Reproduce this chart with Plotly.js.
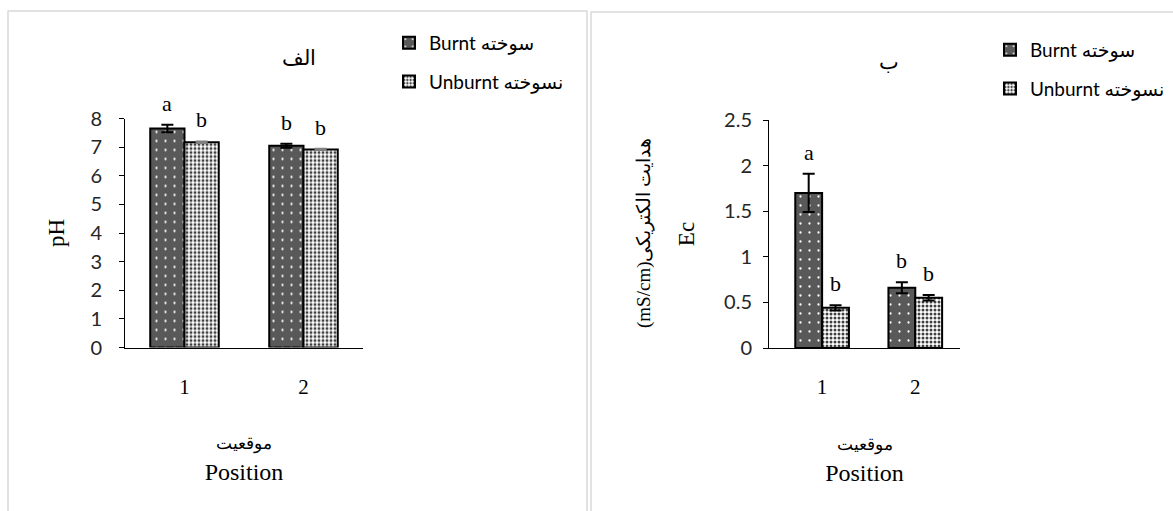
<!DOCTYPE html>
<html>
<head>
<meta charset="utf-8">
<script src="https://cdn.plot.ly/plotly-3.0.1.min.js"></script>
<style>html,body{margin:0;padding:0;background:#fff;}#chart{width:1173px;height:511px;}</style>
</head>
<body>
<div id="chart"></div>
<script>
// ---- data ----
const categories = ['1', '2'];
const seriesNames = ['Burnt سوخته', 'Unburnt نسوخته'];

const phBurnt = [7.65, 7.05];
const phBurntErr = [0.13, 0.07];
const phUnburnt = [7.17, 6.92];
const phUnburntErr = [0.03, 0.02];
const phBurntLetters = ['a', 'b'];
const phUnburntLetters = ['b', 'b'];

const ecBurnt = [1.70, 0.66];
const ecBurntErr = [0.21, 0.06];
const ecUnburnt = [0.44, 0.55];
const ecUnburntErr = [0.03, 0.03];
const ecBurntLetters = ['a', 'b'];
const ecUnburntLetters = ['b', 'b'];

const phTicks = [0, 1, 2, 3, 4, 5, 6, 7, 8];
const ecTicks = [0, 0.5, 1, 1.5, 2, 2.5];

const panelTitleLeft = 'الف';
const panelTitleRight = 'ب';
const xTitleFa = 'موقعیت';
const xTitleEn = 'Position';
const yTitleLeft = 'pH';
const yTitleRightFa = '\u202Bهدایت الکتریکی(mS/cm)\u202C';
const yTitleRightEn = 'Ec';

// ---- styles ----
const W = 1173, H = 511;
const px = v => v / W;
const py = v => (H - v) / H;
const serif = 'Liberation Serif, DejaVu Serif, serif';
const sans = 'Lato, Liberation Sans, DejaVu Sans, sans-serif';
const BARGAP = 0.424;
const barOffset = (1 - BARGAP) / 4;

const burntMarker = {
  color: '#595959',
  line: {color: '#000', width: 2},
  pattern: {shape: '.', bgcolor: '#595959', fgcolor: '#ffffff', size: 9, solidity: 0.05, fillmode: 'replace'}
};
const unburntMarker = {
  color: '#ffffff',
  line: {color: '#000', width: 2},
  pattern: {shape: '.', bgcolor: '#ffffff', fgcolor: '#404040', size: 4, solidity: 0.45, fillmode: 'replace'}
};

function errs(arr, color) {
  return {type: 'data', array: arr, visible: true, color: color || '#000', thickness: 2, width: 6};
}

const traces = [
  {type: 'bar', x: categories, y: phBurnt, name: seriesNames[0], marker: burntMarker,
   error_y: errs(phBurntErr), xaxis: 'x', yaxis: 'y', legend: 'legend', legendgroup: 'l1'},
  {type: 'bar', x: categories, y: phUnburnt, name: seriesNames[1], marker: unburntMarker,
   error_y: errs(phUnburntErr, '#7f7f7f'), xaxis: 'x', yaxis: 'y', legend: 'legend', legendgroup: 'l2'},
  {type: 'bar', x: categories, y: ecBurnt, name: seriesNames[0], marker: burntMarker,
   error_y: errs(ecBurntErr), xaxis: 'x2', yaxis: 'y2', legend: 'legend2', legendgroup: 'r1'},
  {type: 'bar', x: categories, y: ecUnburnt, name: seriesNames[1], marker: unburntMarker,
   error_y: errs(ecUnburntErr), xaxis: 'x2', yaxis: 'y2', legend: 'legend2', legendgroup: 'r2'}
];

const annotations = [];
function addLetters(letters, vals, errArr, sign, xref, yref) {
  letters.forEach((t, i) => {
    annotations.push({
      text: t, xref: xref, yref: yref, x: i + sign * barOffset, y: vals[i] + errArr[i],
      yanchor: 'bottom', xanchor: 'center', yshift: 7, showarrow: false,
      font: {family: serif, size: 22, color: '#000'}
    });
  });
}
addLetters(phBurntLetters, phBurnt, phBurntErr, -1, 'x', 'y');
addLetters(phUnburntLetters, phUnburnt, phUnburntErr, 1, 'x', 'y');
addLetters(ecBurntLetters, ecBurnt, ecBurntErr, -1, 'x2', 'y2');
addLetters(ecUnburntLetters, ecUnburnt, ecUnburntErr, 1, 'x2', 'y2');

annotations.push({text: panelTitleLeft, xref: 'paper', yref: 'paper', x: px(299), y: py(58),
  xshift: -19, yshift: 14,
  showarrow: false, font: {family: serif, size: 21, color: '#000'}});
annotations.push({text: panelTitleRight, xref: 'paper', yref: 'paper', x: px(889), y: py(63),
  xshift: 12, yshift: 15,
  showarrow: false, font: {family: serif, size: 21, color: '#000'}});
annotations.push({text: yTitleRightFa, xref: 'paper', yref: 'paper', x: px(644), y: py(233),
  textangle: -90, showarrow: false, font: {family: serif, size: 19, color: '#000'}});

const frameColor = '#d9d9d9';
const shapes = [
  {type: 'rect', xref: 'paper', yref: 'paper', x0: px(8), x1: px(587), y0: py(530), y1: py(11),
   line: {color: frameColor, width: 1.5}, fillcolor: 'rgba(0,0,0,0)', layer: 'below'},
  {type: 'rect', xref: 'paper', yref: 'paper', x0: px(591), x1: px(1190), y0: py(530), y1: py(12),
   line: {color: frameColor, width: 1.5}, fillcolor: 'rgba(0,0,0,0)', layer: 'below'}
];

const xTitleText = '<span style="font-size:17px">' + xTitleFa + '</span><br>' + xTitleEn;

const commonX = {
  type: 'category', showline: true, linecolor: '#000', linewidth: 1, ticks: '',
  showgrid: false, zeroline: false, ticklabelstandoff: 20,
  tickfont: {family: serif, size: 21, color: '#000'}
};
const commonY = {
  showline: true, linecolor: '#000', linewidth: 1, ticks: 'outside', ticklen: 5,
  tickcolor: '#000', showgrid: false, zeroline: false,
  tickfont: {family: sans, size: 20, color: '#262626'}
};

const layout = {
  width: W, height: H,
  margin: {l: 0, r: 0, t: 0, b: 0},
  paper_bgcolor: '#fff', plot_bgcolor: '#fff',
  barmode: 'group', bargap: BARGAP, bargroupgap: 0,
  xaxis: Object.assign({}, commonX, {domain: [px(125), px(363)], range: [-0.5, 1.5], anchor: 'y',
    title: {text: xTitleText, standoff: 34, font: {family: serif, size: 24, color: '#000'}}}),
  yaxis: Object.assign({}, commonY, {domain: [py(347.5), py(118.5)], range: [0, 8], tickvals: phTicks,
    anchor: 'x', ticklabelstandoff: 13,
    title: {text: yTitleLeft, standoff: 19, font: {family: serif, size: 23, color: '#000'}}}),
  xaxis2: Object.assign({}, commonX, {domain: [px(769), px(960)], range: [-0.57, 1.48], anchor: 'y2',
    title: {text: xTitleText, standoff: 34, font: {family: serif, size: 24, color: '#000'}}}),
  yaxis2: Object.assign({}, commonY, {domain: [py(348), py(120)], range: [0, 2.5], tickvals: ecTicks,
    ticktext: ecTicks.map(String), anchor: 'x2', ticklabelstandoff: 7,
    title: {text: yTitleRightEn, standoff: 23, font: {family: serif, size: 23, color: '#000'}}}),
  legend: {x: px(389), y: py(24), xanchor: 'left', yanchor: 'top', bgcolor: 'rgba(0,0,0,0)',
    font: {family: sans, size: 19, color: '#000'}, traceorder: 'grouped', tracegroupgap: 11},
  legend2: {x: px(990), y: py(31), xanchor: 'left', yanchor: 'top', bgcolor: 'rgba(0,0,0,0)',
    font: {family: sans, size: 19, color: '#000'}, traceorder: 'grouped', tracegroupgap: 11},
  annotations: annotations,
  shapes: shapes,
  showlegend: true
};

Plotly.newPlot('chart', traces, layout, {displayModeBar: false, responsive: false});
</script>
</body>
</html>
